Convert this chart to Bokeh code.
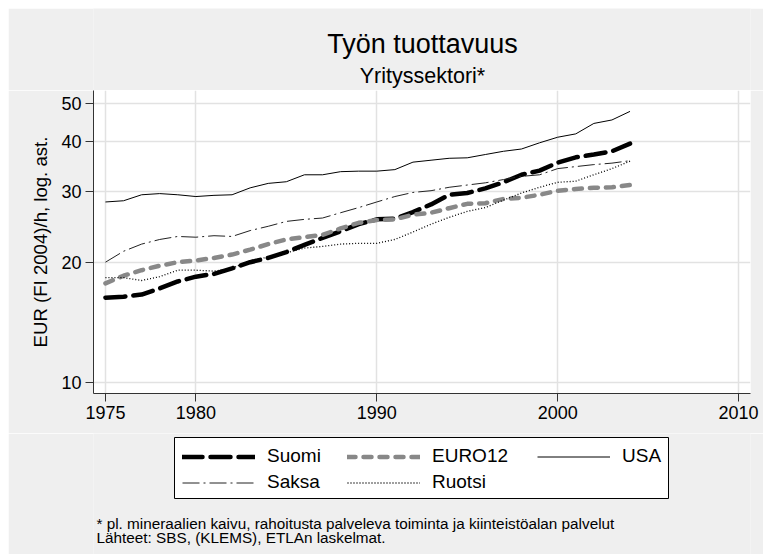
from bokeh.plotting import figure
from bokeh.models import Range1d, FixedTicker, Label, Legend, LegendItem, BoxAnnotation, Spacer
from bokeh.layouts import column, row
from bokeh.embed import file_html
from bokeh.resources import INLINE

# ---- data ----
years = list(range(1975, 2005))
suomi = [16.3, 16.4, 16.6, 17.2, 17.9, 18.4, 18.7, 19.3, 20.0, 20.5,
         21.2, 22.1, 23.0, 23.9, 24.9, 25.6, 25.7, 26.7, 27.9, 29.5,
         29.8, 30.6, 31.7, 33.1, 33.9, 35.5, 36.6, 37.2, 37.9, 39.6]
euro12 = [17.7, 18.5, 19.1, 19.6, 20.0, 20.2, 20.5, 20.9, 21.5, 22.2,
          22.8, 23.1, 23.4, 24.3, 25.1, 25.5, 25.6, 26.3, 26.6, 27.3,
          28.0, 28.1, 28.8, 29.0, 29.5, 30.2, 30.5, 30.7, 30.8, 31.2]
usa = [28.3, 28.5, 29.5, 29.7, 29.5, 29.2, 29.4, 29.5, 30.7, 31.5,
       31.8, 33.1, 33.1, 33.7, 33.8, 33.8, 34.1, 35.6, 36.0, 36.4,
       36.5, 37.2, 37.9, 38.4, 39.8, 41.1, 41.9, 44.5, 45.4, 47.7]
saksa = [20.0, 21.3, 22.2, 22.8, 23.2, 23.1, 23.3, 23.2, 24.0, 24.6,
         25.3, 25.6, 25.8, 26.6, 27.4, 28.3, 29.2, 29.9, 30.2, 30.8,
         31.2, 31.6, 32.2, 32.8, 33.1, 34.3, 34.7, 35.1, 35.4, 35.9]
ruotsi = [18.3, 18.3, 18.0, 18.4, 19.1, 19.1, 19.0, 19.3, 20.2, 20.6,
          21.1, 21.7, 21.9, 22.2, 22.3, 22.3, 22.8, 23.8, 24.9, 25.9,
          26.8, 27.4, 28.6, 29.8, 30.8, 31.7, 31.9, 33.1, 34.3, 35.8]
series_names = ["Suomi", "EURO12", "USA", "Saksa", "Ruotsi"]
series_values = [suomi, euro12, usa, saksa, ruotsi]
x_ticks = [1975, 1980, 1990, 2000, 2010]
y_ticks = [10, 20, 30, 40, 50]
y_tick_labels = ["10", "20", "30", "40", "50"]

title_text = "Työn tuottavuus"
subtitle_text = "Yrityssektori*"
y_label = "EUR (FI 2004)/h, log. ast."
note_lines = ["* pl. mineraalien kaivu, rahoitusta palveleva toiminta ja kiinteistöalan palvelut",
              "Lähteet: SBS, (KLEMS), ETLAn laskelmat."]

FONT = "Liberation Sans"
BG = "#efefef"
W = 755
LEFT, RIGHT = 85, 13   # frame borders shared by all stacked figures

styles = [
    dict(line_color="black", line_width=4.5, line_dash="20 8", line_cap="round", line_join="round"),
    dict(line_color="#888888", line_width=4.5, line_dash="8 8", line_cap="round", line_join="round"),
    dict(line_color="black", line_width=1),
    dict(line_color="#222222", line_width=1, line_dash="17 4 2 4"),
    dict(line_color="black", line_width=1.3, line_dash="1 2"),
]

def blank_fig(h):
    f = figure(width=W, height=h, output_backend="svg", toolbar_location=None,
               x_axis_type=None, y_axis_type=None,
               x_range=Range1d(0, 1), y_range=Range1d(0, 1),
               min_border_left=LEFT, min_border_right=RIGHT,
               min_border_top=0, min_border_bottom=0)
    f.border_fill_color = BG
    f.background_fill_color = BG
    f.outline_line_color = None
    return f

# ---- title strip ----
top = blank_fig(82)
top.add_layout(Label(x=329, y=47, x_units="screen", y_units="screen", text=title_text,
                     text_align="center", text_baseline="alphabetic",
                     text_font=FONT, text_font_size="27px", text_color="black"))
top.add_layout(Label(x=329, y=15, x_units="screen", y_units="screen", text=subtitle_text,
                     text_align="center", text_baseline="alphabetic",
                     text_font=FONT, text_font_size="21.5px", text_color="black"))

# ---- main plot ----
p = figure(width=W, height=343, output_backend="svg", toolbar_location=None,
           y_axis_type="log",
           x_range=Range1d(1974.34, 2010.66), y_range=Range1d(9.385, 53.8),
           min_border_left=LEFT, min_border_right=RIGHT, min_border_top=0, min_border_bottom=40)
p.border_fill_color = BG
p.background_fill_color = "white"
p.outline_line_color = None

p.xaxis.ticker = FixedTicker(ticks=x_ticks)
p.yaxis.ticker = FixedTicker(ticks=y_ticks)
p.yaxis.major_label_overrides = {t: s for t, s in zip(y_ticks, y_tick_labels)}
for ax in (p.xaxis, p.yaxis):
    ax.axis_line_color = "#333333"
    ax.axis_line_width = 1
    ax.major_tick_line_color = "#333333"
    ax.major_tick_out = 8
    ax.major_tick_in = 0
    ax.minor_tick_line_color = None
    ax.major_label_text_font = FONT
    ax.major_label_text_font_size = "18px"
    ax.major_label_text_color = "black"
    ax.major_label_standoff = 4
p.yaxis.axis_label = y_label
p.yaxis.axis_label_text_font = FONT
p.yaxis.axis_label_text_font_size = "18.6px"
p.yaxis.axis_label_text_font_style = "normal"
p.yaxis.axis_label_text_color = "black"
p.yaxis.axis_label_standoff = 7

for g in (p.xgrid, p.ygrid):
    g.grid_line_color = "#e2e2e2"
    g.grid_line_width = 1.5

for vals, st in zip(series_values, styles):
    p.line(years, vals, **st)

# ---- legend + notes strip ----
bot = blank_fig(121)
box = BoxAnnotation(left=81, right=575, top=117, bottom=56,
                    left_units="screen", right_units="screen",
                    top_units="screen", bottom_units="screen",
                    fill_color="white", fill_alpha=1.0,
                    line_color="black", line_width=1, line_alpha=1.0)
bot.add_layout(box)
nan = float("nan")
key_renderers = [bot.line([nan], [nan], **st) for st in styles]

def make_legend(idx, loc):
    lg = Legend(items=[LegendItem(label=series_names[i], renderers=[key_renderers[i]]) for i in idx],
                location=loc, orientation="vertical",
                glyph_width=73, glyph_height=23, label_height=23,
                label_standoff=12, spacing=3, padding=0, margin=0,
                border_line_color=None, background_fill_alpha=0.0,
                label_text_font=FONT, label_text_font_size="19px",
                label_text_color="black")
    bot.add_layout(lg)

make_legend([0, 3], (89, 60.5))
make_legend([1, 4], (254, 60.5))
make_legend([2], (444, 86.5))

for i, line in enumerate(note_lines):
    bot.add_layout(Label(x=3, y=30.7 - 14 * i, x_units="screen", y_units="screen", text=line,
                         text_align="left", text_baseline="alphabetic",
                         text_font=FONT, text_font_size="15.3px", text_color="black"))

layout = column(Spacer(width=763, height=8),
                row(Spacer(width=8, height=546), column(top, p, bot, spacing=0), spacing=0),
                spacing=0)

open("out.html", "w").write(file_html(layout, INLINE))
